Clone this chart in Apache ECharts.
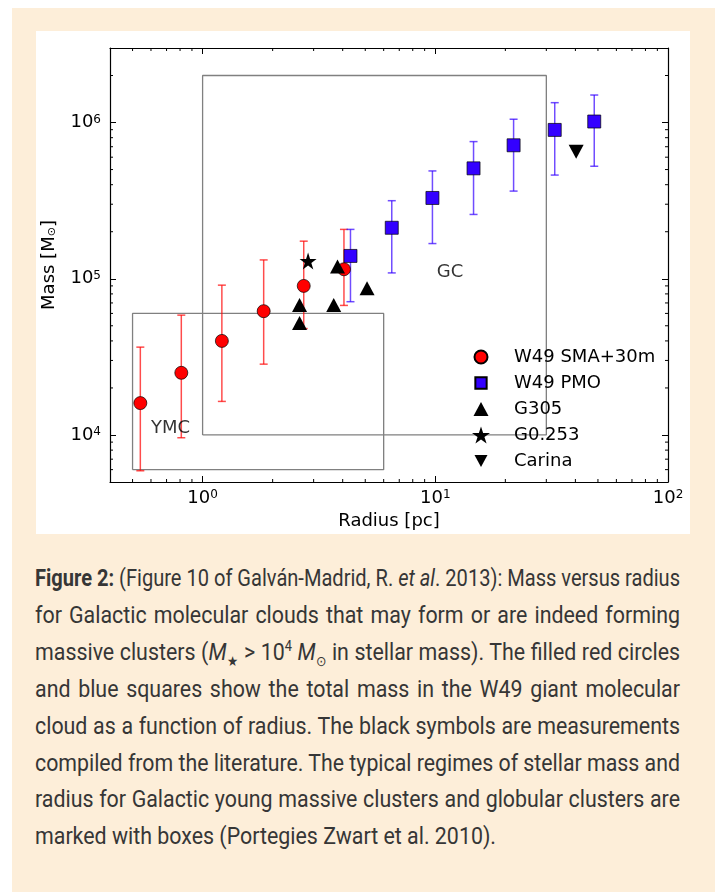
<!DOCTYPE html>
<html>
<head>
<meta charset="utf-8">
<script src="https://cdn.jsdelivr.net/npm/echarts@6/dist/echarts.min.js"></script>
<style>
  html,body{margin:0;padding:0;background:#fff;width:715px;height:892px;overflow:hidden;}
  #peach{position:absolute;left:12px;top:8px;width:703px;height:884px;background:#fdeed9;}
  #panel{position:absolute;left:36px;top:31px;width:654px;height:503px;background:#fff;}
  #chart{position:absolute;left:0;top:0;width:715px;height:540px;}
  #cap{position:absolute;left:35px;top:560px;font-family:'Roboto',sans-serif;font-size:24px;line-height:36.9px;color:#363636;white-space:nowrap;}
  #cap > div{text-align:justify;text-align-last:justify;transform-origin:0 0;}
  #cap > div.last{text-align:left;text-align-last:left;}
  #cap b{font-weight:700;}
  #cap sub,#cap sup{font-size:60%;line-height:0;}
</style>
</head>
<body>
<div id="peach"></div>
<div id="panel"></div>
<div id="chart"></div>
<div id="cap">
  <div><b>Figure 2:</b> (Figure 10 of Galván-Madrid, R. <i>et al</i>. 2013): Mass versus radius</div>
  <div>for Galactic molecular clouds that may form or are indeed forming</div>
  <div>massive clusters (<i>M</i><sub>★</sub> &gt; 10<sup>4</sup> <i>M</i><sub>⊙</sub> in stellar mass). The filled red circles</div>
  <div>and blue squares show the total mass in the W49 giant molecular</div>
  <div>cloud as a function of radius. The black symbols are measurements</div>
  <div>compiled from the literature. The typical regimes of stellar mass and</div>
  <div>radius for Galactic young massive clusters and globular clusters are</div>
  <div class="last">marked with boxes (Portegies Zwart et al. 2010).</div>
</div>
<script>
// ---------- data ----------
const smaR  = [0.54, 0.81, 1.21, 1.83, 2.72, 4.05];
const smaM  = [1.6e4, 2.5e4, 4.0e4, 6.2e4, 9.0e4, 1.15e5];
const smaLo = [5.9e3, 9.6e3, 1.64e4, 2.84e4, 4.8e4, 6.75e4];
const smaHi = [3.65e4, 5.85e4, 9.1e4, 1.32e5, 1.74e5, 2.07e5];

const pmoR  = [4.32, 6.5, 9.72, 14.6, 21.7, 32.6, 48.2];
const pmoM  = [1.40e5, 2.12e5, 3.29e5, 5.09e5, 7.15e5, 8.97e5, 1.015e6];
const pmoLo = [7.13e4, 1.09e5, 1.68e5, 2.58e5, 3.64e5, 4.61e5, 5.25e5];
const pmoHi = [2.07e5, 3.16e5, 4.9e5, 7.55e5, 1.05e6, 1.34e6, 1.5e6];

const g305R = [2.61, 2.61, 3.66, 3.8, 5.09];
const g305M = [6.8e4, 5.2e4, 6.8e4, 1.2e5, 8.7e4];

const g0253R = [2.84];
const g0253M = [1.3e5];

const carinaR = [40.3];
const carinaM = [6.5e5];

const ymcBoxX = [0.5, 6, 6, 0.5, 0.5];
const ymcBoxY = [6e3, 6e3, 6e4, 6e4, 6e3];
const gcBoxX  = [1, 30, 30, 1, 1];
const gcBoxY  = [1e4, 1e4, 2e6, 2e6, 1e4];

const annX = [0.6, 10.15];
const annY = [1.1e4, 1.1e5];
const annText = ['YMC', 'GC'];

const xMinor = [0.5,0.6,0.7,0.8,0.9,2,3,4,5,6,7,8,9,20,30,40,50,60,70,80,90];
const yMinor = [6e3,7e3,8e3,9e3,2e4,3e4,4e4,5e4,6e4,7e4,8e4,9e4,2e5,3e5,4e5,5e5,6e5,7e5,8e5,9e5,2e6];

const xRange = [0.4, 100];
const yRange = [5e3, 3e6];

const legendNames = ['W49 SMA+30m', 'W49 PMO', 'G305', 'G0.253', 'Carina'];

// ---------- chart ----------
const F = 'DejaVu Sans';
const STAR = 'path://M50,0 L61.23,34.55 L97.55,34.55 L68.17,55.9 L79.39,90.45 L50,69.1 L20.61,90.45 L31.83,55.9 L2.45,34.55 L38.77,34.55 Z';
const DOWN = 'path://M0,0 L100,0 L50,95 Z';
// legend icons (padded so that they keep their relative sizes inside an 18px box)
const LEG_ICONS = [
  'path://M-19.2,-19.2 M119.2,119.2 M50,0 A50,50 0 1 1 50,100 A50,50 0 1 1 50,0 Z',
  'path://M-29.6,-29.6 M129.6,129.6 M0,0 L100,0 L100,100 L0,100 Z',
  'path://M-10,-13.5 M110,106.5 M50,0 L100,93 L0,93 Z',
  STAR,
  'path://M-19.2,-22.7 M119.2,115.7 M0,0 L100,0 L50,93 Z'
];

function powLabel(v){
  const e = Math.log10(v), r = Math.round(e);
  if (Math.abs(e - r) > 1e-6) return '';
  return '{b|10}{s|' + r + '}';
}
const tickRich = {
  b: {fontFamily: F, fontSize: 18, color: '#000'},
  s: {fontFamily: F, fontSize: 12, color: '#000', verticalAlign: 'top'}
};
const lineStyleBlack = {color: '#000', width: 1.2};

function axisX(pos, labels){
  return {
    type: 'log', logBase: 10, min: xRange[0], max: xRange[1], position: pos,
    axisLine: {show: true, onZero: false, lineStyle: lineStyleBlack},
    axisTick: {show: true, inside: true, length: 6, lineStyle: {color: '#000', width: 1}},
    axisLabel: {show: labels, interval: 0, margin: 7, formatter: powLabel, rich: tickRich, showMinLabel: true, showMaxLabel: true},
    splitLine: {show: false}, minorTick: {show: false}, minorSplitLine: {show: false},
    name: labels ? 'Radius [pc]' : '', nameLocation: 'middle', nameGap: 29,
    nameTextStyle: {fontFamily: F, fontSize: 18, color: '#000'}
  };
}
function axisY(pos, labels){
  return {
    type: 'log', logBase: 10, min: yRange[0], max: yRange[1], position: pos,
    axisLine: {show: true, onZero: false, lineStyle: lineStyleBlack},
    axisTick: {show: true, inside: true, length: 6, lineStyle: {color: '#000', width: 1}},
    axisLabel: {show: labels, interval: 0, margin: 9, formatter: powLabel, rich: tickRich},
    splitLine: {show: false}, minorTick: {show: false}, minorSplitLine: {show: false},
    name: labels ? 'Mass [M{sub|⊙}]' : '', nameLocation: 'middle', nameGap: 52, nameRotate: 90,
    nameTextStyle: {fontFamily: F, fontSize: 18, color: '#000',
      rich: {sub: {fontFamily: F, fontSize: 11, color: '#000', verticalAlign: 'bottom'}}}
  };
}

function errRender(color){
  return function(params, api){
    const x = api.value(0);
    const lo = api.coord([x, api.value(1)]);
    const hi = api.coord([x, api.value(2)]);
    const w = 4;
    const st = {stroke: color, lineWidth: 1.5};
    return {type: 'group', children: [
      {type: 'line', shape: {x1: lo[0], y1: lo[1], x2: hi[0], y2: hi[1]}, style: st},
      {type: 'line', shape: {x1: lo[0]-w, y1: lo[1], x2: lo[0]+w, y2: lo[1]}, style: st},
      {type: 'line', shape: {x1: hi[0]-w, y1: hi[1], x2: hi[0]+w, y2: hi[1]}, style: st}
    ]};
  };
}

function minorXRender(params, api){
  const p = api.coord([api.value(0), api.value(1)]);
  const cs = params.coordSys;
  const st = {stroke: '#000', lineWidth: 1};
  return {type: 'group', children: [
    {type: 'line', shape: {x1: p[0], y1: cs.y + cs.height, x2: p[0], y2: cs.y + cs.height - 3}, style: st},
    {type: 'line', shape: {x1: p[0], y1: cs.y, x2: p[0], y2: cs.y + 3}, style: st}
  ]};
}
function minorYRender(params, api){
  const p = api.coord([api.value(0), api.value(1)]);
  const cs = params.coordSys;
  const st = {stroke: '#000', lineWidth: 1};
  return {type: 'group', children: [
    {type: 'line', shape: {x1: cs.x, y1: p[1], x2: cs.x + 3, y2: p[1]}, style: st},
    {type: 'line', shape: {x1: cs.x + cs.width, y1: p[1], x2: cs.x + cs.width - 3, y2: p[1]}, style: st}
  ]};
}

const zip = (a, b) => a.map((v, i) => [v, b[i]]);

const option = {
  animation: false,
  backgroundColor: 'transparent',
  grid: {left: 110, right: 47, top: 48, bottom: 58, containLabel: false, outerBoundsMode: 'none'},
  xAxis: [axisX('bottom', true), axisX('top', false)],
  yAxis: [axisY('left', true), axisY('right', false)],
  legend: {
    data: legendNames.map((n, i) => ({name: n, icon: LEG_ICONS[i]})),
    orient: 'vertical', left: 471, top: 347, padding: 0,
    itemWidth: 18, itemHeight: 18, itemGap: 6, selectedMode: false,
    textStyle: {fontFamily: F, fontSize: 18, color: '#000', lineHeight: 20, padding: [0, 0, 0, 19]}
  },
  series: [
    {type: 'line', name: 'ymcbox', data: zip(ymcBoxX, ymcBoxY), symbol: 'none', z: 1,
     lineStyle: {color: '#808080', width: 1.3}, silent: true},
    {type: 'line', name: 'gcbox', data: zip(gcBoxX, gcBoxY), symbol: 'none', z: 1,
     lineStyle: {color: '#808080', width: 1.3}, silent: true},
    {type: 'custom', name: 'xminor', data: xMinor.map(v => [v, yRange[0]]), renderItem: minorXRender, silent: true, z: 10},
    {type: 'custom', name: 'yminor', data: yMinor.map(v => [xRange[0], v]), renderItem: minorYRender, silent: true, z: 10},
    {type: 'custom', name: 'smaerr', data: smaR.map((r, i) => [r, smaLo[i], smaHi[i]]),
     encode: {x: 0, y: [1, 2]}, renderItem: errRender('rgba(255,0,0,0.7)'), silent: true, z: 2},
    {type: 'custom', name: 'pmoerr', data: pmoR.map((r, i) => [r, pmoLo[i], pmoHi[i]]),
     encode: {x: 0, y: [1, 2]}, renderItem: errRender('rgba(51,0,255,0.7)'), silent: true, z: 2},
    {type: 'scatter', name: 'W49 SMA+30m', data: zip(smaR, smaM), symbol: 'circle', symbolSize: 13, z: 3,
     itemStyle: {color: '#ff0000', borderColor: '#000', borderWidth: 0.7, opacity: 1}},
    {type: 'scatter', name: 'W49 PMO', data: zip(pmoR, pmoM), symbol: 'rect', symbolSize: 13, z: 4,
     itemStyle: {color: '#3300ff', borderColor: '#000', borderWidth: 0.7, opacity: 1}},
    {type: 'scatter', name: 'G305', data: zip(g305R, g305M), symbol: 'triangle', symbolSize: [15, 14], z: 5,
     itemStyle: {color: '#000', opacity: 1}},
    {type: 'scatter', name: 'G0.253', data: zip(g0253R, g0253M), symbol: STAR, symbolSize: 17, z: 5,
     itemStyle: {color: '#000', opacity: 1}},
    {type: 'scatter', name: 'Carina', data: zip(carinaR, carinaM), symbol: DOWN, symbolSize: [15, 14], z: 5,
     itemStyle: {color: '#000', opacity: 1}},
    {type: 'scatter', name: 'annot', data: annX.map((x, i) => [x, annY[i], annText[i]]),
     symbol: 'circle', symbolSize: 0.1, itemStyle: {color: 'transparent'}, silent: true, z: 6,
     label: {show: true, position: 'right', distance: 0, formatter: p => p.data[2],
             fontFamily: F, fontSize: 18, color: '#000'}}
  ]
};

const chart = echarts.init(document.getElementById('chart'), null, {renderer: 'canvas'});
chart.setOption(option);

// ---------- caption fit (condensed, justified lines) ----------
(function(){
  const cap = document.getElementById('cap');
  const lines = Array.from(cap.children);
  const target = 645, lastTarget = 461;
  lines.forEach(l => { l.style.display = 'inline-block'; l.style.width = 'auto'; });
  const nat = lines.map(l => l.getBoundingClientRect().width);
  const sG = lastTarget / nat[nat.length - 1];
  lines.forEach((l, i) => {
    l.style.display = 'block';
    const isLast = i === lines.length - 1;
    const s = isLast ? sG : Math.min(sG, target / nat[i]);
    l.style.transform = 'scaleX(' + s + ')';
    l.style.width = isLast ? (nat[i] + 2) + 'px' : (target / s) + 'px';
  });
})();
</script>
</body>
</html>
